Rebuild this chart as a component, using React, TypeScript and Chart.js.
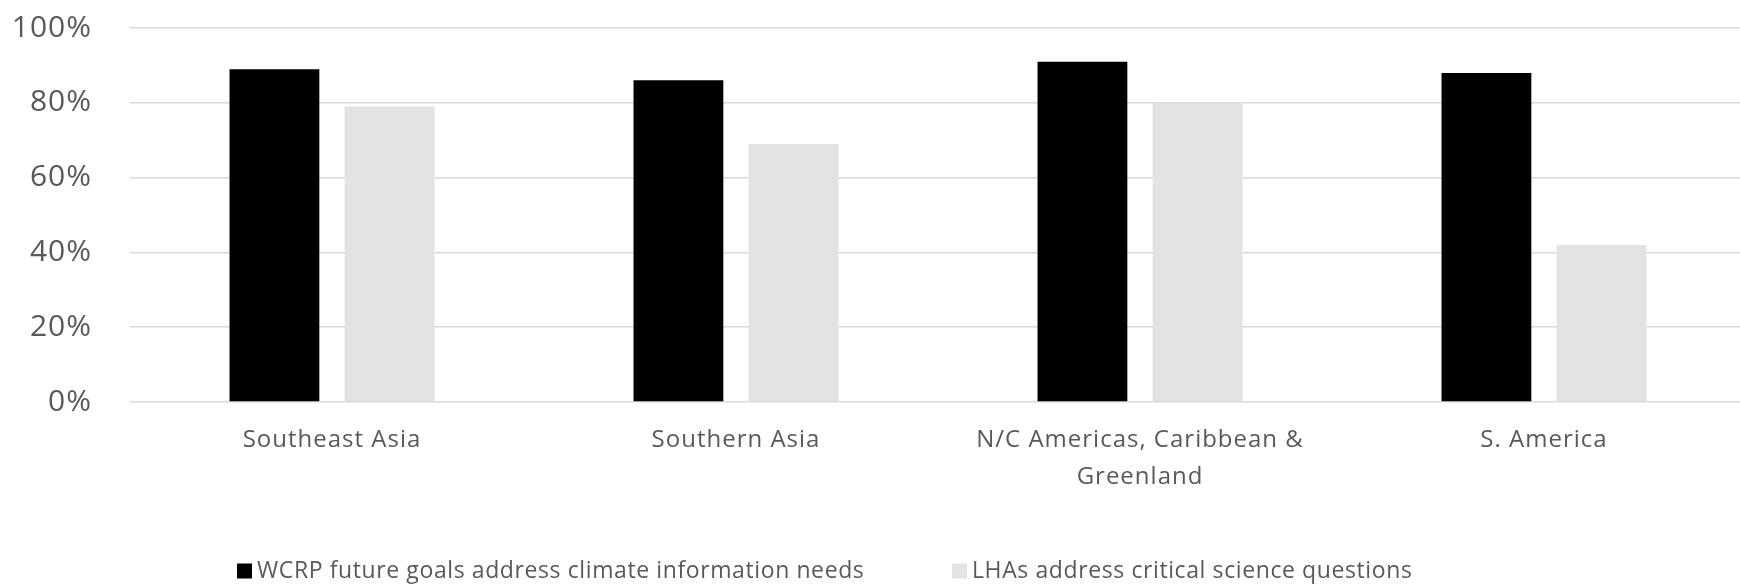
import React, { useEffect, useRef } from "react";
import { Chart, registerables } from "chart.js";

Chart.register(...registerables);

const categories: (string | string[])[] = [
  "Southeast Asia",
  "Southern Asia",
  ["N/C Americas, Caribbean &", "Greenland"],
  "S. America",
];
const wcrpValues = [89, 86, 91, 88];
const lhaValues = [79, 69, 80, 42];
const seriesNames = [
  "WCRP future goals address climate information needs",
  "LHAs address critical science questions",
];
const yTicks = [0, 20, 40, 60, 80, 100];

const FONT = "'Open Sans', 'DejaVu Sans', sans-serif";
const TEXT = "#595959";

const spacingPlugin = {
  id: "letterSpacing",
  beforeDraw(chart: any) {
    (chart.ctx as any).letterSpacing = "1px";
  },
};

const legendPlugin = {
  id: "customLegend",
  afterDraw(chart: any) {
    const ctx = chart.ctx;
    const starts = [237, 952];
    const cy = 571;
    ctx.save();
    (ctx as any).letterSpacing = "0.6px";
    ctx.font = `23px ${FONT}`;
    ctx.textBaseline = "middle";
    ctx.textAlign = "left";
    chart.data.datasets.forEach((ds: any, i: number) => {
      const x = starts[i];
      ctx.fillStyle = ds.backgroundColor;
      ctx.fillRect(x, cy - 7.5, 15, 15);
      ctx.fillStyle = TEXT;
      ctx.fillText(ds.label, x + 20, cy);
    });
    ctx.restore();
  },
};

export default function App() {
  const ref = useRef<HTMLCanvasElement | null>(null);
  useEffect(() => {
    if (!ref.current) return;
    const chart = new Chart(ref.current, {
      type: "bar",
      data: {
        labels: categories,
        datasets: [
          {
            label: seriesNames[0],
            data: wcrpValues,
            backgroundColor: "#000000",
            categoryPercentage: 0.57,
            barPercentage: 0.78,
          },
          {
            label: seriesNames[1],
            data: lhaValues,
            backgroundColor: "#e3e3e3",
            categoryPercentage: 0.57,
            barPercentage: 0.78,
          },
        ],
      },
      options: {
        animation: false,
        responsive: false,
        maintainAspectRatio: false,
        layout: { padding: { top: 28, bottom: 83, left: 0, right: 0 } },
        plugins: {
          legend: { display: false },
          tooltip: { enabled: false },
        },
        scales: {
          x: {
            grid: { display: false, drawTicks: false },
            border: { display: false },
            ticks: {
              color: TEXT,
              font: { family: FONT, size: 24, lineHeight: 1.52 },
              padding: 20,
              maxRotation: 0,
              autoSkip: false,
            },
            afterFit(scale: any) {
              scale.height = 100;
            },
          },
          y: {
            min: 0,
            max: 100,
            afterBuildTicks(scale: any) {
              scale.ticks = yTicks.map((v) => ({ value: v }));
            },
            grid: { color: "#d9d9d9", lineWidth: 1.5, drawTicks: false },
            border: { display: false },
            ticks: {
              color: TEXT,
              font: { family: FONT, size: 30 },
              padding: 38,
              callback: (v: any) => `${v}%`,
            },
            afterFit(scale: any) {
              scale.width = 130;
              scale.paddingTop = 0;
              scale.paddingBottom = 0;
            },
          },
        },
      },
      plugins: [spacingPlugin, legendPlugin],
    });
    return () => chart.destroy();
  }, []);
  return (
    <div
      style={{
        position: "fixed",
        left: 0,
        top: 0,
        width: 1740,
        height: 585,
        overflow: "hidden",
        background: "#fff",
      }}
    >
      <canvas ref={ref} width={1746} height={585} style={{ width: 1746, height: 585, display: "block" }} />
    </div>
  );
}
